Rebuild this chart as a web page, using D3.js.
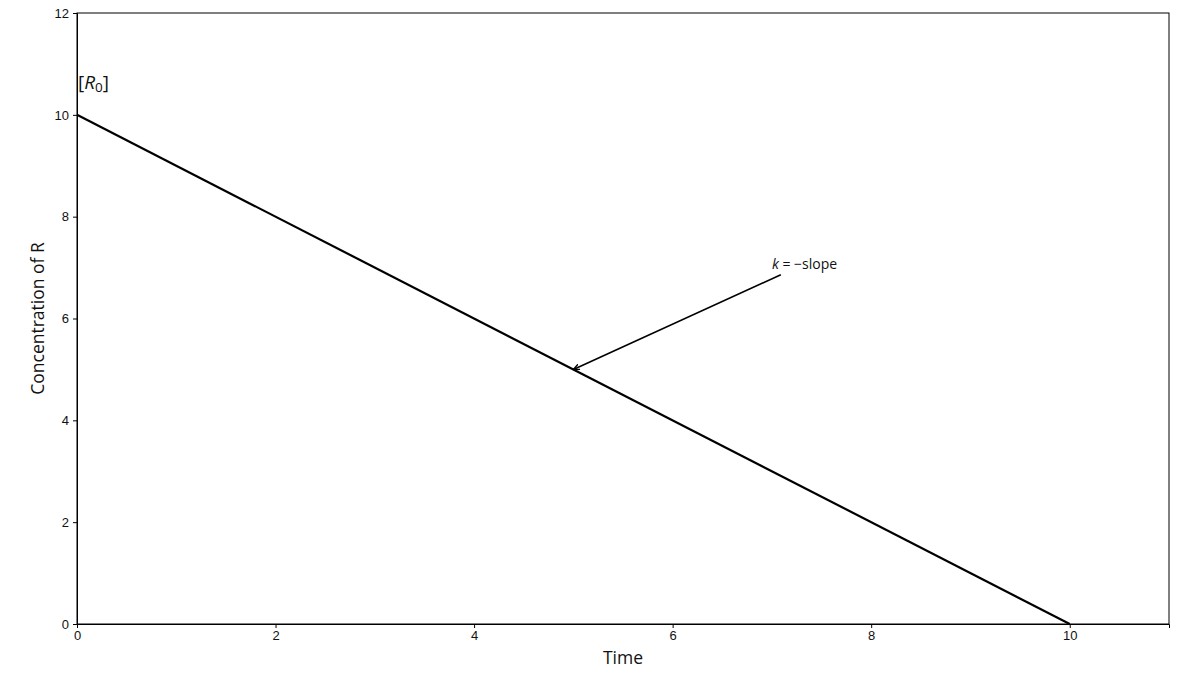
<!DOCTYPE html>
<html>
<head>
<meta charset="utf-8">
<script src="https://cdn.jsdelivr.net/npm/d3@7"></script>
<style>
  body { margin: 0; background: #fff; }
  svg { font-family: "Open Sans", "DejaVu Sans", sans-serif; }
  .axis text { font-size: 13px; fill: #111; }
  .axis path, .axis line { stroke: #000; stroke-width: 1; }
</style>
</head>
<body>
<svg id="chart" width="1200" height="675"></svg>
<script>
// zero-order decay line
var times = [0, 10];
var concentrations = [10, 0];
var xTicks = [0, 2, 4, 6, 8, 10];
var yTicks = [0, 2, 4, 6, 8, 10, 12];
var xDomain = [0, 11];
var yDomain = [0, 12];
// annotation: text position and arrow tip
var annotText = [7, 7];
var arrowFrom = [7.09, 6.86];
var arrowTo = [5, 5];
var r0Label = [0, 10.5];

var svg = d3.select("#chart");
var margin = {top: 13, right: 31, bottom: 51, left: 77};
var w = 1200 - margin.left - margin.right;
var h = 675 - margin.top - margin.bottom;
var g = svg.append("g").attr("transform", "translate(" + margin.left + "," + margin.top + ")");

var x = d3.scaleLinear().domain(xDomain).range([0, w]);
var y = d3.scaleLinear().domain(yDomain).range([h, 0]);

svg.append("defs").append("marker")
  .attr("id", "arrow")
  .attr("viewBox", "0 0 10 10")
  .attr("refX", 9).attr("refY", 5)
  .attr("markerWidth", 7).attr("markerHeight", 7)
  .attr("markerUnits", "userSpaceOnUse")
  .attr("orient", "auto")
  .append("path")
  .attr("d", "M0,1 L9,5 L0,9")
  .attr("fill", "none").attr("stroke", "#000").attr("stroke-width", 2);

g.append("g")
  .attr("class", "x axis")
  .attr("transform", "translate(0," + h + ")")
  .call(d3.axisBottom(x).tickValues(xTicks).tickSize(4).tickPadding(3).tickFormat(d3.format("d")));

g.append("g")
  .attr("class", "y axis")
  .call(d3.axisLeft(y).tickValues(yTicks).tickSize(4).tickPadding(4).tickFormat(d3.format("d")));

// frame
g.append("rect")
  .attr("width", w).attr("height", h)
  .attr("fill", "none").attr("stroke", "#000").attr("stroke-width", 1);

var line = d3.line()
  .x(function(d, i) { return x(times[i]); })
  .y(function(d) { return y(d); });

g.append("path")
  .datum(concentrations)
  .attr("d", line)
  .attr("fill", "none")
  .attr("stroke", "#000")
  .attr("stroke-width", 2.2);

// annotation arrow
g.append("line")
  .attr("x1", x(arrowFrom[0])).attr("y1", y(arrowFrom[1]))
  .attr("x2", x(arrowTo[0])).attr("y2", y(arrowTo[1]))
  .attr("stroke", "#000").attr("stroke-width", 1.6)
  .attr("marker-end", "url(#arrow)");

var t = g.append("text")
  .attr("x", x(annotText[0])).attr("y", y(annotText[1]) + 1)
  .attr("font-size", 14).attr("fill", "#111");
t.append("tspan").attr("font-style", "italic").text("k");
t.append("tspan").text(" = \u2212slope");

var r = g.append("text")
  .attr("x", x(r0Label[0]) + 1).attr("y", y(r0Label[1]))
  .attr("font-size", 19).attr("fill", "#111");
r.append("tspan").text("[");
r.append("tspan").attr("font-style", "italic").text("R");
r.append("tspan").attr("font-size", 13.5).attr("dy", 3).text("0");
r.append("tspan").attr("dy", -3).text("]");

// axis labels
svg.append("text")
  .attr("x", margin.left + w / 2).attr("y", 664)
  .attr("text-anchor", "middle")
  .attr("font-size", 17.5).attr("fill", "#111")
  .text("Time");

svg.append("text")
  .attr("transform", "translate(44," + (margin.top + h / 2) + ") rotate(-90)")
  .attr("text-anchor", "middle")
  .attr("font-size", 17.5).attr("fill", "#111")
  .text("Concentration of R");
</script>
</body>
</html>
